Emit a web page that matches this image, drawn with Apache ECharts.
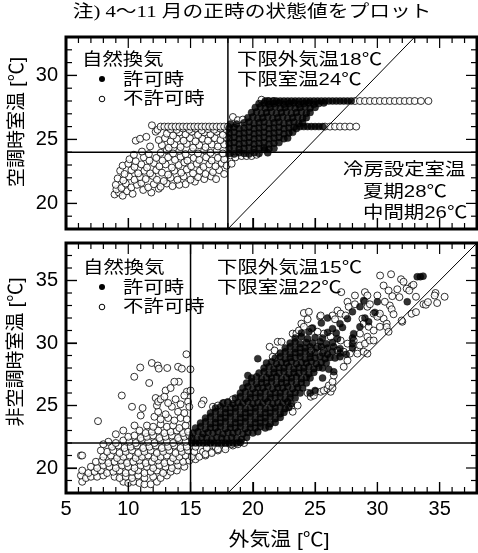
<!DOCTYPE html>
<html><head><meta charset="utf-8">
<script src="https://cdn.jsdelivr.net/npm/echarts@6/dist/echarts.min.js"></script>
<style>html,body{margin:0;padding:0;background:#fff}#wrap{position:relative;width:478px;height:553px}#c,#f{position:absolute;left:0;top:0;width:478px;height:553px}#f{pointer-events:none}</style>
</head><body><div id="wrap"><div id="c"></div><div id="f"></div></div>
<script>
// ---- axis ranges and tick labels ----
const xRange = [5, 38];
const topYRange = [18, 33];
const botYRange = [18, 38];
const xMajorStep = 5;          // labels 5,10,...,35
const topYMajorCount = 3;      // labels 20,25,30
const botYMajorCount = 4;      // labels 20,25,30,35
const majorEvery = 5;
const topLimits = { outdoor: 18, indoor: 24 };
const botLimits = { outdoor: 15, indoor: 22 };
const topSetpoints = { summer: 28, middle: 26 };

// ---- top panel: 空調時室温 (不許可時 = open, 許可時 = filled) ----
const topDeny = [
[8.9,20.7],[9.25,20.85],[9.55,20.6],[9.9,20.95],[10.35,20.75],[11.2,21.05],[11.85,20.85],[12.45,21.15],[9.05,21.1],
[9.0,21.45],[9.45,21.2],[9.8,21.55],[10.25,21.25],[10.7,21.45],[11.05,21.6],[11.6,21.25],[12.05,21.5],[12.6,21.3],[13.1,21.55],[13.55,21.35],[14.6,21.5],[15.35,21.7],[14.1,21.45],
[9.15,21.95],[9.6,21.8],[10.05,22.1],[10.5,21.85],[10.95,22.05],[11.4,21.9],[11.95,22.15],[12.3,21.85],[12.85,21.75],[13.4,22.0],[13.95,21.85],[14.45,22.1],[15.0,21.85],[15.6,22.05],[16.1,21.9],[16.65,22.1],[17.05,21.9],
[9.35,22.55],[9.7,22.3],[10.25,22.6],[10.8,22.35],[11.3,22.55],[11.75,22.35],[12.25,22.6],[12.7,22.4],[13.2,22.25],[13.7,22.55],[14.25,22.4],[14.7,22.65],[15.2,22.35],[15.75,22.55],[16.2,22.3],[16.8,22.45],[17.3,22.6],[17.7,22.3],
[9.55,22.95],[10.0,23.1],[10.5,22.85],[11.05,23.05],[11.5,22.8],[12.05,23.15],[12.5,22.9],[13.0,23.05],[13.5,22.8],[14.05,23.0],[14.5,23.2],[15.05,22.9],[15.5,23.1],[16.05,22.85],[16.5,23.05],[17.0,22.9],[17.5,23.15],[17.9,22.95],
[10.1,23.45],[10.6,23.3],[11.25,23.6],[11.7,23.35],[12.25,23.55],[12.75,23.35],[13.2,23.6],[13.75,23.4],[14.2,23.65],[14.75,23.35],[15.25,23.55],[15.7,23.4],[16.25,23.6],[16.7,23.35],[17.2,23.55],[17.7,23.45],
[10.45,23.8],[11.1,24.05],[11.65,23.85],[12.6,23.95],[13.1,24.15],[13.6,23.9],[14.1,24.1],[14.6,23.85],[15.1,24.05],[15.6,23.9],[16.1,24.15],[16.6,23.95],[17.1,24.1],[17.6,23.9],
[11.75,24.45],[12.7,24.55],[13.25,24.35],[13.7,24.6],[14.2,24.4],[14.7,24.65],[15.2,24.35],[15.7,24.55],[16.2,24.4],[16.7,24.6],[17.2,24.45],[17.7,24.6],
[10.6,24.9],[10.95,25.05],[11.45,25.2],[12.45,24.95],[12.95,25.1],[13.4,24.85],[13.9,25.05],[14.45,24.9],[14.95,25.1],[15.4,24.85],[15.95,25.05],[16.4,24.9],[16.95,25.1],[17.4,24.95],[17.9,25.15],
[12.2,25.6],[12.35,25.75],[13.1,25.45],[13.6,25.3],[14.1,25.55],[14.6,25.4],[15.1,25.6],[15.6,25.35],[16.1,25.55],[16.6,25.4],[17.1,25.6],[17.6,25.35],
[13.4,25.8],[13.9,25.75],[14.4,25.85],[14.9,25.75],[15.4,25.85],[15.9,25.7],[16.4,25.8],[16.9,25.75],[17.4,25.85],[17.9,25.75],
[11.9,26.1],[12.6,26],[12.9,26],[13.2,26],[13.5,26],[13.8,26],[14.1,26],[14.4,26],[14.7,26],[15.0,26],[15.3,26],[15.6,26],[15.9,26],[16.2,26],[16.5,26],[16.8,26],[17.1,26],[17.4,26],[17.7,26],[18.0,26],
[18.2,23.75],[18.6,23.6],[19.1,23.7],[19.5,23.7],[19.9,23.7],[20.3,23.8],[18.3,23.1],
[18.4,26.75],[18.8,26.5],[19.2,26.55],
[25.8,26],[26.2,26],[26.6,26],[27.0,26],[27.4,26],[27.8,26],[28.3,26],
[20.7,28.1],[21.2,28],[21.7,28],
[28.2,28],[28.6,28],[29.0,28],[29.4,28],[29.8,28],[30.2,28],[30.6,28],[31.0,28],[31.4,28],[31.8,28],[32.2,28],[32.6,28],[33.0,28],[33.5,28],[34.1,28]
];
const topAllow = [
[18.1,23.9],[18.5,23.85],[18.9,23.95],[19.3,23.9],[19.7,23.85],[20.1,23.95],[20.5,23.9],[20.95,24.2],[21.2,23.95],
[18.1,24.3],[18.5,24.35],[18.9,24.25],[19.3,24.3],[19.7,24.35],[20.1,24.25],[20.5,24.3],[20.9,24.35],[21.3,24.25],[21.7,24.3],
[18.1,24.7],[18.5,24.75],[18.9,24.65],[19.3,24.7],[19.7,24.75],[20.1,24.65],[20.5,24.7],[20.9,24.75],[21.3,24.65],[21.7,24.7],[22.1,24.75],
[18.1,25.1],[18.5,25.15],[18.9,25.05],[19.3,25.1],[19.7,25.15],[20.1,25.05],[20.5,25.1],[20.9,25.15],[21.3,25.05],[21.7,25.1],[22.1,25.15],[22.5,25.05],[22.8,25.1],
[18.1,25.5],[18.5,25.55],[18.9,25.45],[19.3,25.5],[19.7,25.55],[20.1,25.45],[20.5,25.5],[20.9,25.55],[21.3,25.45],[21.7,25.5],[22.1,25.55],[22.5,25.45],[22.9,25.5],[23.2,25.55],
[18.1,25.9],[18.5,25.95],[18.9,25.85],[19.3,25.9],[19.7,25.95],[20.1,25.85],[20.5,25.9],[20.9,25.95],[21.3,25.85],[21.7,25.9],[22.1,25.95],[22.5,25.85],[22.9,25.9],[23.3,25.95],[23.5,25.85],
[23.8,26],[24.1,26],[24.4,26],[24.7,26],[25.0,26],[25.3,26],[25.6,26],
[18.2,26.2],[18.7,26.2],[19.3,26.3],[19.7,26.35],[20.1,26.25],[20.5,26.3],[20.9,26.35],[21.3,26.25],[21.7,26.3],[22.1,26.35],[22.5,26.25],[22.9,26.3],[23.3,26.35],[23.7,26.25],[24.0,26.3],
[19.6,26.7],[20.0,26.75],[20.4,26.65],[20.8,26.7],[21.2,26.75],[21.6,26.65],[22.0,26.7],[22.4,26.75],[22.8,26.65],[23.2,26.7],[23.6,26.75],[24.0,26.65],[24.3,26.7],
[19.9,27.1],[20.3,27.15],[20.7,27.05],[21.1,27.1],[21.5,27.15],[21.9,27.05],[22.3,27.1],[22.7,27.15],[23.1,27.05],[23.5,27.1],[23.9,27.15],[24.3,27.05],[24.6,27.1],
[20.2,27.5],[20.6,27.55],[21.0,27.45],[21.4,27.5],[21.8,27.55],[22.2,27.45],[22.6,27.5],[23.0,27.55],[23.4,27.45],[23.8,27.5],[24.2,27.55],[24.6,27.45],[25.0,27.5],
[20.5,27.8],[20.9,27.85],[21.3,27.75],[21.7,27.8],[22.1,27.85],[22.5,27.75],[22.9,27.8],[23.3,27.85],[23.7,27.75],[24.1,27.8],[24.5,27.85],[24.9,27.75],[25.3,27.8],[25.7,27.85],
[21.0,28],[21.3,28],[21.6,28],[21.9,28],[22.2,28],[22.5,28],[22.8,28],[23.1,28],[23.4,28],[23.7,28],[24.0,28],[24.3,28],[24.6,28],[24.9,28],[25.2,28],[25.5,28],[25.8,28],[26.1,28],[26.4,28],[26.7,28],[27.0,28],[27.3,28],[27.6,28],[27.9,28]
];

// ---- bottom panel: 非空調時室温 ----
const botDeny = [
[6.3,18.9],[9.6,18.9],[10.0,18.8],[10.4,18.9],[10.9,18.8],[11.3,18.7],[11.8,18.7],[12.3,18.9],
[6.2,19.4],[6.6,19.2],[7.0,19.3],[7.5,19.3],[8.0,19.4],[8.9,19.3],[9.3,19.2],[9.8,19.3],[10.3,19.2],[10.8,19.4],[11.3,19.2],[12.0,19.3],[12.6,19.2],[13.1,19.4],
[6.3,19.8],[6.8,19.6],[7.3,19.7],[7.8,19.8],[8.3,19.6],[8.8,19.7],[9.3,19.8],[9.8,19.6],[10.3,19.7],[10.8,19.8],[11.3,19.6],[11.8,19.7],[12.3,19.8],[12.8,19.6],[13.4,19.7],[13.9,19.8],
[7.0,20.1],[7.5,20.0],[8.0,20.2],[8.5,20.1],[9.0,20.0],[9.5,20.2],[10.0,20.1],[10.5,20.0],[11.0,20.2],[11.5,20.1],[12.0,20.0],[12.5,20.2],[13.0,20.1],[13.5,20.0],[14.0,20.2],[14.5,20.1],
[7.4,20.5],[7.9,20.6],[8.4,20.4],[8.9,20.5],[9.4,20.6],[9.9,20.4],[10.4,20.5],[10.9,20.6],[11.4,20.4],[11.9,20.5],[12.4,20.6],[12.9,20.4],[13.4,20.5],[13.9,20.6],[14.4,20.5],[14.9,20.6],[15.4,20.7],
[6.2,21.0],[8.0,20.9],[8.6,21.0],[9.1,20.8],[9.6,20.9],[10.1,21.0],[10.6,20.8],[11.1,20.9],[11.6,21.0],[12.1,20.8],[12.6,20.9],[13.1,21.0],[13.6,20.8],[14.1,20.9],[14.6,21.0],[15.1,20.9],[15.7,20.9],[16.2,21.0],
[8.3,21.3],[8.8,21.4],[9.3,21.2],[9.8,21.3],[10.3,21.4],[10.8,21.2],[11.3,21.3],[11.8,21.4],[12.3,21.2],[12.8,21.3],[13.3,21.4],[13.8,21.2],[14.3,21.3],[14.8,21.4],[15.3,21.3],[16.0,21.3],[16.7,21.3],[17.2,21.4],
[8.7,21.7],[9.2,21.8],[9.7,21.6],[10.2,21.7],[10.7,21.8],[11.2,21.6],[11.7,21.7],[12.2,21.8],[12.7,21.6],[13.2,21.7],[13.7,21.8],[14.2,21.6],[14.7,21.7],[15.4,21.7],[16.3,21.6],[17.0,21.7],[17.8,21.7],[18.4,21.8],
[8.4,22.1],[9.0,22.0],[9.6,22.2],[10.1,22.1],[10.6,22.0],[11.1,22.2],[11.6,22.1],[12.1,22.0],[12.6,22.2],[13.1,22.1],[13.6,22.0],[14.1,22.2],[14.6,22.1],
[10.0,22.5],[10.5,22.6],[11.0,22.4],[11.5,22.5],[12.0,22.6],[12.5,22.4],[13.0,22.5],[13.5,22.6],[14.0,22.4],[14.5,22.5],[14.9,22.6],
[10.9,23.0],[11.4,22.8],[11.9,22.9],[12.4,23.0],[12.9,22.8],[13.4,22.9],[13.9,23.0],[14.4,22.8],[14.8,22.9],
[11.5,23.4],[12.0,23.3],[12.6,23.5],[13.1,23.3],[13.6,23.4],[14.1,23.2],[14.6,23.4],
[12.1,24.1],[12.6,23.9],[13.2,24.0],[13.7,23.8],[14.2,24.0],[14.7,23.9],
[12.4,24.5],[13.0,24.3],[13.5,24.9],[14.0,24.5],[14.5,24.4],[10.3,24.9],[11.15,24.8],[12.3,25.0],
[7.57,23.75],[9.48,25.8],[10.48,27.3],[10.96,28.04],[11.89,28.4],[12.37,28.2],[12.45,27.95],[13.13,28.0],[14.0,28.1],[14.3,27.95],[14.67,29.1],[14.99,27.9],[11.68,26.8],[14.06,26.9],[13.0,26.2],[13.4,26.4],[14.7,26.1],[12.2,25.6],[12.4,25.3],[12.6,25.5],[13.2,25.2],[13.8,25.5],[14.2,25.1],[14.8,25.3],[12.9,25.7],[14.5,25.8],[14.9,24.9],[11.0,24.2],[10.5,23.4],[9.6,23.0],[9.0,22.7],[8.0,21.9],[7.8,21.4],[6.3,21.0],[15.0,26.2],[13.7,26.9],
[16.2,21.1],[16.7,21.2],[17.2,21.5],[17.8,21.5],[18.3,21.9],[18.8,21.9],[19.3,22.0],
[16.05,25.4],[15.9,25.1],[16.8,24.9],[17.2,25.0],[17.7,25.2],[18.0,25.2],[18.4,25.5],
[21.35,29.7],[21.75,29.4],[22.0,30.1],[22.3,30.1],[21.6,28.9],[23.2,30.75],[23.5,30.75],[23.7,31.0],
[24.1,32.4],[24.5,32.5],[24.4,31.9],[25.4,32.1],[26.4,32.2],[26.6,31.9],[23.9,31.55],[25.45,32.2],
[26.8,32.6],[27.05,32.35],[27.45,32.2],[27.6,33.3],[27.7,32.9],[28.2,33.1],[29.0,33.3],[29.2,32.9],[29.4,33.1],
[29.7,32.35],[30.1,32.2],[30.5,31.95],[28.8,31.95],[28.9,31.55],[29.3,31.3],[29.7,31.0],[29.2,30.5],[28.6,30.75],
[28.1,30.2],[27.6,29.95],[27.05,30.2],[26.25,30.5],[25.7,30.75],[25.2,30.9],[24.7,31.15],[24.1,31.3],
[26.8,29.4],[27.3,29.3],[27.8,29.15],[28.4,29.4],[28.6,29.8],[29.0,29.95],[25.2,29.7],[25.7,29.4],[24.7,29.4],
[23.07,24.9],[23.2,24.5],[23.6,25.0],[24.4,26.0],[24.65,25.7],[24.9,25.8],[25.05,26.1],[25.45,26.1],[25.7,26.2],[26.0,26.35],[26.25,26.1],[26.1,26.6],[26.4,26.4],
[26.4,26.9],[26.5,27.4],[27.3,28.1],[27.6,28.6],[28.4,29.15],[28.9,29.3],[29.2,29.15],[29.4,30.2],[29.7,30.2],[30.2,31.3],[30.75,31.55],[30.0,32.1],[30.2,32.35],
[30.22,35.4],[31.1,35.5],[31.9,35.1],[32.1,34.9],[32.75,34.55],[32.9,34.66],[32.35,34.35],[32.56,34.2],[31.6,34.3],[27.1,34.07],[28.2,33.8],[29.0,34.07],[29.2,33.8],
[30.0,33.8],[30.5,34.6],[31.2,33.75],[31.77,33.67],[33.1,33.7],[33.7,33.1],[33.9,33.06],[34.67,34.0],[34.6,33.8],[35.4,33.7],[34.8,33.2],[32.75,32.34],[33.1,32.47],
[32.0,31.7],[31.0,33.0],[31.15,32.7],[31.3,32.3],[30.75,31.28],[30.9,30.9],[31.95,31.8],[34.06,33.27],[30.6,33.3],[30.9,34.2]
];
const botAllow = [
[15.1,22],[15.4,22],[15.7,22],[16.0,22],[16.3,22],[16.6,22],[16.9,22],[17.2,22],[17.5,22],[17.8,22],[18.1,22],[18.4,22],[18.7,22],[19.0,22.05],
[15.1,22.4],[15.5,22.35],[15.9,22.45],[16.3,22.4],[16.7,22.3],[17.1,22.45],[17.5,22.4],[17.9,22.35],[18.3,22.45],[18.7,22.4],[19.1,22.3],[19.5,22.45],
[15.2,22.8],[15.6,22.9],[16.0,22.75],[16.4,22.85],[16.8,22.8],[17.2,22.9],[17.6,22.75],[18.0,22.85],[18.4,22.8],[18.8,22.9],[19.2,22.75],[19.6,22.85],[20.0,22.8],[20.4,22.9],
[15.4,23.2],[15.8,23.3],[16.2,23.15],[16.6,23.25],[17.0,23.2],[17.4,23.3],[17.8,23.15],[18.2,23.25],[18.6,23.2],[19.0,23.3],[19.4,23.15],[19.8,23.25],[20.2,23.2],[20.6,23.3],[21.0,23.2],[21.3,23.3],
[15.8,23.6],[16.2,23.7],[16.6,23.55],[17.0,23.65],[17.4,23.6],[17.8,23.7],[18.2,23.55],[18.6,23.65],[19.0,23.6],[19.4,23.7],[19.8,23.55],[20.2,23.65],[20.6,23.6],[21.0,23.7],[21.4,23.55],[21.8,23.65],
[16.2,24.0],[16.6,24.1],[17.0,23.95],[17.4,24.05],[17.8,24.0],[18.2,24.1],[18.6,23.95],[19.0,24.05],[19.4,24.0],[19.8,24.1],[20.2,23.95],[20.6,24.05],[21.0,24.0],[21.4,24.1],[21.8,23.95],[22.2,24.05],
[16.6,24.4],[17.0,24.5],[17.4,24.35],[17.8,24.45],[18.2,24.4],[18.6,24.5],[19.0,24.35],[19.4,24.45],[19.8,24.4],[20.2,24.5],[20.6,24.35],[21.0,24.45],[21.4,24.4],[21.8,24.5],[22.2,24.35],[22.5,24.45],
[17.0,24.8],[17.4,24.9],[17.8,24.75],[18.2,24.85],[18.6,24.8],[19.0,24.9],[19.4,24.75],[19.8,24.85],[20.2,24.8],[20.6,24.9],[21.0,24.75],[21.4,24.85],[21.8,24.8],[22.2,24.9],[22.6,24.75],[22.9,24.85],
[17.6,25.2],[18.0,25.3],[18.4,25.15],[18.8,25.25],[19.2,25.2],[19.6,25.3],[20.0,25.15],[20.4,25.25],[20.8,25.2],[21.2,25.3],[21.6,25.15],[22.0,25.25],[22.4,25.2],[22.8,25.3],[23.1,25.15],
[18.6,25.6],[19.0,25.7],[19.4,25.55],[19.8,25.65],[20.2,25.6],[20.6,25.7],[21.0,25.55],[21.4,25.65],[21.8,25.6],[22.2,25.7],[22.6,25.55],[23.0,25.65],[23.4,25.6],
[19.0,26.0],[19.4,26.1],[19.8,25.95],[20.2,26.05],[20.6,26.0],[21.0,26.1],[21.4,25.95],[21.8,26.05],[22.2,26.0],[22.6,26.1],[23.0,25.95],[23.4,26.05],[23.8,26.0],
[19.2,26.4],[19.6,26.5],[20.0,26.35],[20.4,26.45],[20.8,26.4],[21.2,26.5],[21.6,26.35],[22.0,26.45],[22.4,26.4],[22.8,26.5],[23.2,26.35],[23.6,26.45],[24.0,26.4],
[19.5,26.8],[19.9,26.9],[20.3,26.75],[20.7,26.85],[21.1,26.8],[21.5,26.9],[21.9,26.75],[22.3,26.85],[22.7,26.8],[23.1,26.9],[23.5,26.75],[23.9,26.85],[24.3,26.8],
[19.9,27.2],[20.3,27.3],[20.7,27.15],[21.1,27.25],[21.5,27.2],[21.9,27.3],[22.3,27.15],[22.7,27.25],[23.1,27.2],[23.5,27.3],[23.9,27.15],[24.3,27.25],[24.6,27.2],
[20.5,27.6],[20.9,27.7],[21.3,27.55],[21.7,27.65],[22.1,27.6],[22.5,27.7],[22.9,27.55],[23.3,27.65],[23.7,27.6],[24.1,27.7],[24.5,27.55],[24.9,27.65],
[20.9,28.0],[21.3,28.1],[21.7,27.95],[22.1,28.05],[22.5,28.0],[22.9,28.1],[23.3,27.95],[23.7,28.05],[24.1,28.0],[24.5,28.1],[24.9,27.95],[25.3,28.05],[25.6,28.0],
[21.1,28.4],[21.5,28.5],[21.9,28.35],[22.3,28.45],[22.7,28.4],[23.1,28.5],[23.5,28.35],[23.9,28.45],[24.3,28.4],[24.7,28.5],[25.1,28.35],[25.5,28.45],[25.9,28.4],
[21.8,28.8],[22.2,28.9],[22.6,28.75],[23.0,28.85],[23.4,28.8],[23.8,28.9],[24.2,28.75],[24.6,28.85],[25.0,28.8],[25.4,28.9],[25.8,28.75],[26.2,28.85],[26.6,28.8],[27.0,28.9],
[22.2,29.2],[22.6,29.3],[23.0,29.15],[23.4,29.25],[23.8,29.2],[24.2,29.3],[24.6,29.15],[25.0,29.25],[25.6,29.2],[26.0,29.1],[26.4,29.3],[27.0,29.2],[27.5,29.1],
[22.6,29.6],[23.0,29.7],[23.4,29.55],[23.8,29.65],[24.2,29.6],[24.6,29.7],[25.1,29.6],[25.5,29.7],[26.0,29.6],[26.5,29.7],[27.0,29.55],[28.0,29.6],
[23.0,30.0],[23.4,30.1],[23.8,29.95],[24.3,30.05],[24.8,30.0],[25.4,30.1],[25.9,29.95],[26.4,30.05],[28.0,29.95],
[23.4,30.4],[23.9,30.5],[24.4,30.35],[25.0,30.45],[25.6,30.4],[26.8,30.35],[28.0,30.4],
[23.9,30.8],[24.5,30.9],[26.0,30.85],[26.7,30.8],[28.1,30.75],
[24.8,31.2],[26.4,31.15],[27.2,31.25],[28.6,31.3],
[25.5,31.6],[27.0,31.55],[29.3,31.7],
[26.0,32.0],[27.6,31.95],[29.0,32.0],
[28.0,32.5],[29.8,32.45],
[28.6,32.9],
[28.9,33.4],[30.0,33.3],
[33.2,35.3],[33.45,35.3],[33.67,35.35],[32.4,33.3],[26.5,27.7],[25.0,26.2],[24.6,26.0],[25.6,27.2],[26.1,27.9],[20.4,28.75],[19.6,27.4]
];

// ---- shared layout ----
const FONT = '"Liberation Sans","Noto Sans CJK JP",sans-serif';
const grids = [
  { left: 66, top: 37, width: 411, height: 192 },
  { left: 66, top: 243, width: 411, height: 250 }
];
function intsBetween(a, b) { const r = []; for (let v = a; v <= b; v++) r.push(v); return r; }

// ================= layer 1: data =================
function plainAxis(g, range) {
  return { gridIndex: g, type: 'value', min: range[0], max: range[1],
    axisLine: { show: false }, axisTick: { show: false }, axisLabel: { show: false }, splitLine: { show: false } };
}
function refLine(ai, data, w) {
  return { type: 'line', xAxisIndex: ai, yAxisIndex: ai, data: data, symbol: 'none', silent: true,
    lineStyle: { color: '#000', width: w }, animation: false };
}
function scatter(ai, data, filled) {
  return { type: 'scatter', xAxisIndex: ai, yAxisIndex: ai, data: data, symbol: 'circle', symbolSize: 7,
    itemStyle: filled ? { color: '#000', borderColor: '#000', borderWidth: 0.5 } : { color: '#fff', borderColor: '#000', borderWidth: 1 },
    animation: false };
}
function txt(x, y, s, opt) {
  opt = opt || {};
  return { type: 'text', x: x, y: y, rotation: opt.rot || 0, scaleX: opt.sx || 1.2, z: 100,
    style: { text: s, font: (opt.size || 17) + 'px ' + (opt.family || FONT), fill: '#000',
      align: opt.align || 'left', verticalAlign: 'middle' } };
}
const graphics = [
  txt(252, 13, '注) 4～11 月の正時の状態値をプロット', { align: 'center', family: '"Liberation Serif","Noto Sans CJK JP",serif', size: 17, sx: 1.22 }),
  txt(82, 60, '自然換気'), txt(123, 80, '許可時'), txt(123, 99, '不許可時'),
  txt(237, 60, '下限外気温' + topLimits.outdoor + '℃'), txt(237, 80, '下限室温' + topLimits.indoor + '℃'),
  txt(343, 170, '冷房設定室温'), txt(363, 192, '夏期' + topSetpoints.summer + '℃'), txt(363, 213, '中間期' + topSetpoints.middle + '℃'),
  txt(83, 268, '自然換気'), txt(123, 288, '許可時'), txt(123, 307, '不許可時'),
  txt(217, 268, '下限外気温' + botLimits.outdoor + '℃'), txt(217, 288, '下限室温' + botLimits.indoor + '℃'),
  txt(18, 122, '空調時室温 [℃]', { rot: Math.PI / 2, align: 'center', sx: 1, size: 19 }),
  txt(17, 352, '非空調時室温 [℃]', { rot: Math.PI / 2, align: 'center', sx: 1, size: 19 }),
  txt(279, 541, '外気温 [℃]', { align: 'center', size: 19, sx: 1.1 }),
  { type: 'circle', shape: { cx: 102, cy: 79, r: 3 }, style: { fill: '#000' }, z: 100 },
  { type: 'circle', shape: { cx: 102, cy: 99, r: 2.8 }, style: { fill: '#fff', stroke: '#000', lineWidth: 1 }, z: 100 },
  { type: 'circle', shape: { cx: 102, cy: 287, r: 3 }, style: { fill: '#000' }, z: 100 },
  { type: 'circle', shape: { cx: 102, cy: 307, r: 2.8 }, style: { fill: '#fff', stroke: '#000', lineWidth: 1 }, z: 100 }
];
const dataChart = echarts.init(document.getElementById('c'), null, { renderer: 'canvas' });
dataChart.setOption({
  animation: false,
  backgroundColor: '#fff',
  grid: grids.map(g => Object.assign({ show: false }, g)),
  xAxis: [plainAxis(0, xRange), plainAxis(1, xRange)],
  yAxis: [plainAxis(0, topYRange), plainAxis(1, botYRange)],
  series: [
    refLine(0, [[topLimits.outdoor, topYRange[0]], [topLimits.outdoor, topYRange[1]]], 1.5),
    refLine(0, [[xRange[0], topLimits.indoor], [xRange[1], topLimits.indoor]], 1.5),
    refLine(0, [[topYRange[0], topYRange[0]], [topYRange[1], topYRange[1]]], 1),
    scatter(0, topDeny, false),
    scatter(0, topAllow, true),
    refLine(1, [[botLimits.outdoor, botYRange[0]], [botLimits.outdoor, botYRange[1]]], 1.5),
    refLine(1, [[xRange[0], botLimits.indoor], [xRange[1], botLimits.indoor]], 1.5),
    refLine(1, [[botYRange[0], botYRange[0]], [botYRange[1], botYRange[1]]], 1),
    scatter(1, botDeny, false),
    scatter(1, botAllow, true)
  ],
  graphic: graphics
});

// ================= layer 2: frame, ticks and tick labels =================
function xAxisDef(g, labels) {
  return { gridIndex: g, type: 'value', min: xRange[0], max: xRange[1], interval: xMajorStep, position: 'bottom',
    axisLine: { show: true, lineStyle: { color: '#000', width: 1 } }, splitLine: { show: false },
    axisTick: { show: true, inside: true, length: 11, lineStyle: { color: '#000', width: 1.2 } },
    axisLabel: labels ? { show: true, color: '#000', fontSize: 20, fontFamily: FONT, margin: 6, showMaxLabel: false } : { show: false } };
}
function yAxisDef(g, range, cnt) {
  return { gridIndex: g, type: 'value', min: range[0], max: range[1], splitNumber: cnt, position: 'left',
    axisLine: { show: true, lineStyle: { color: '#000', width: 1 } }, splitLine: { show: false },
    axisTick: { show: true, inside: true, length: 11, lineStyle: { color: '#000', width: 1.2 } },
    axisLabel: { show: true, color: '#000', fontSize: 20, fontFamily: FONT, margin: 8, showMinLabel: false, showMaxLabel: false } };
}
function tickSeries(ai, side, values, xr, yr) {
  const isX = side === 'bottom' || side === 'top';
  return {
    type: 'custom', xAxisIndex: ai, yAxisIndex: ai, silent: true, z: 10, clip: false, animation: false,
    data: values.map(v => isX ? [v, side === 'bottom' ? yr[0] : yr[1]] : [side === 'left' ? xr[0] : xr[1], v]),
    renderItem: function (params, api) {
      const p = api.coord([api.value(0), api.value(1)]);
      const v = api.value(isX ? 0 : 1);
      const len = (Math.round(v) % majorEvery === 0) ? 11 : 6;
      let x2 = p[0], y2 = p[1];
      if (side === 'bottom') y2 -= len; else if (side === 'top') y2 += len;
      else if (side === 'left') x2 += len; else x2 -= len;
      return { type: 'line', shape: { x1: p[0], y1: p[1], x2: x2, y2: y2 }, style: { stroke: '#000', lineWidth: 1.2 } };
    }
  };
}
const xTicks = intsBetween(xRange[0], xRange[1]);
const topYTicks = intsBetween(topYRange[0], topYRange[1]);
const botYTicks = intsBetween(botYRange[0], botYRange[1]);
const frameChart = echarts.init(document.getElementById('f'), null, { renderer: 'canvas' });
frameChart.setOption({
  animation: false,
  backgroundColor: 'transparent',
  grid: grids.map(g => Object.assign({ show: true, borderColor: '#000', borderWidth: 3, backgroundColor: 'transparent' }, g)),
  xAxis: [xAxisDef(0, false), xAxisDef(1, true)],
  yAxis: [yAxisDef(0, topYRange, topYMajorCount), yAxisDef(1, botYRange, botYMajorCount)],
  series: [
    tickSeries(0, 'bottom', xTicks, xRange, topYRange),
    tickSeries(0, 'top', xTicks, xRange, topYRange),
    tickSeries(0, 'left', topYTicks, xRange, topYRange),
    tickSeries(0, 'right', topYTicks, xRange, topYRange),
    tickSeries(1, 'bottom', xTicks, xRange, botYRange),
    tickSeries(1, 'top', xTicks, xRange, botYRange),
    tickSeries(1, 'left', botYTicks, xRange, botYRange),
    tickSeries(1, 'right', botYTicks, xRange, botYRange)
  ]
});
</script></body></html>
